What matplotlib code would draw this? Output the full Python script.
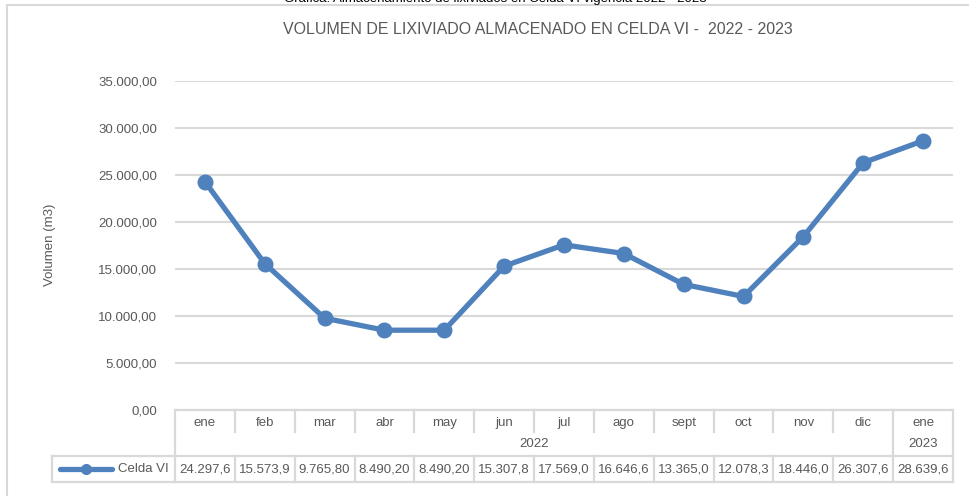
import matplotlib
matplotlib.use("Agg")
import matplotlib.pyplot as plt
from matplotlib.lines import Line2D
from matplotlib.patches import Rectangle
from matplotlib import font_manager as fm

months = ["ene", "feb", "mar", "abr", "may", "jun", "jul", "ago", "sept", "oct", "nov", "dic", "ene"]
years = ["2022", "2023"]
year_spans = [(0, 11), (12, 12)]
values = [24297.6, 15573.9, 9765.80, 8490.20, 8490.20, 15307.8, 17569.0,
          16646.6, 13365.0, 12078.3, 18446.0, 26307.6, 28639.6]
value_labels = ["24.297,6", "15.573,9", "9.765,80", "8.490,20", "8.490,20", "15.307,8", "17.569,0",
                "16.646,6", "13.365,0", "12.078,3", "18.446,0", "26.307,6", "28.639,6"]
yticks = [0, 5000, 10000, 15000, 20000, 25000, 30000, 35000]
ytick_labels = ["0,00", "5.000,00", "10.000,00", "15.000,00", "20.000,00", "25.000,00", "30.000,00", "35.000,00"]
series_name = "Celda VI"
title = "VOLUMEN DE LIXIVIADO ALMACENADO EN CELDA VI -  2022 - 2023"
caption = "Gráfica: Almacenamiento de lixiviados en Celda VI vigencia 2022 - 2023"
ylabel = "Volumen (m3)"

names = {f.name for f in fm.fontManager.ttflist}
FAM = ["Liberation Sans Narrow", "Liberation Sans", "DejaVu Sans"] if "Liberation Sans Narrow" in names else ["Liberation Sans", "DejaVu Sans"]
NARROW = "Liberation Sans Narrow" in names
plt.rcParams["font.family"] = FAM

W, H = 969, 496
fig = plt.figure(figsize=(W / 100, H / 100), dpi=100)
TXT = "#595959"
GRID = "#D9D9D9"
LINEC = "#4F81BD"

def fx(px):
    return px / W

def fy(py):
    return 1 - py / H

L, R, T, B = 175, 953, 81, 410
ax = fig.add_axes([fx(L), fy(B), fx(R) - fx(L), fy(T) - fy(B)])
n = len(months)
ax.set_xlim(-0.5, n - 0.5)
ax.set_ylim(0, 35000)
for s in ax.spines.values():
    s.set_visible(False)
ax.set_xticks([])
ax.set_yticks(yticks)
ax.set_yticklabels(ytick_labels)
ax.tick_params(axis="y", length=0, pad=13, labelsize=11.5 if NARROW else 9.5, labelcolor=TXT)
for v in yticks:
    ax.axhline(v, color=GRID, lw=1.5, zorder=0)
ax.plot(range(n), values, color=LINEC, lw=3.8, marker="o", markersize=10.5,
        solid_capstyle="round", zorder=3, clip_on=False)

fs = 11.5 if NARROW else 9.5
col_w = (R - L) / n
def cx(i):
    return L + col_w * (i + 0.5)
def edge(i):
    return L + col_w * i

y_top, y_mon, y_yr, y_bot = 410, 433, 456, 482
lw = 1.6
def hline(x0, x1, y):
    fig.add_artist(Line2D([fx(x0), fx(x1)], [fy(y), fy(y)], color=GRID, lw=lw))
def vline(x, y0, y1):
    fig.add_artist(Line2D([fx(x), fx(x)], [fy(y0), fy(y1)], color=GRID, lw=lw))

hline(L, R, y_top)
hline(52, R, y_yr)
hline(52, R, y_bot)
vline(52, y_yr, y_bot)
vline(L, y_top, y_bot)
vline(R, y_top, y_bot)
for i in range(1, n):
    if i == 12:
        vline(edge(i), y_top, y_bot)
    else:
        vline(edge(i), y_top, y_mon - 1)
        vline(edge(i), y_yr, y_bot)

for i, m in enumerate(months):
    fig.text(fx(cx(i)), fy(423), m, ha="center", va="center", fontsize=fs, color=TXT)
    fig.text(fx(cx(i)), fy(469), value_labels[i], ha="center", va="center", fontsize=fs, color=TXT)
for yr, (a, b) in zip(years, year_spans):
    fig.text(fx((edge(a) + edge(b + 1)) / 2), fy(444), yr, ha="center", va="center", fontsize=fs, color=TXT)

fig.add_artist(Line2D([fx(60), fx(112)], [fy(469), fy(469)], color=LINEC, lw=3.8, solid_capstyle="round"))
fig.add_artist(Line2D([fx(86)], [fy(469)], color=LINEC, marker="o", markersize=7, lw=0))
fig.text(fx(169), fy(469), series_name, ha="right", va="center", fontsize=fs, color=TXT)

fig.text(fx(538), fy(29), title, ha="center", va="center", fontsize=13.5 if NARROW else 11.5, color=TXT)
fig.text(fx(50), fy(245), ylabel, ha="center", va="center", rotation=90, fontsize=fs, color=TXT)
fig.text(fx(495), fy(-1), caption, ha="center", va="center", fontsize=fs, color="#000000")

fig.add_artist(Rectangle((fx(7), fy(520)), fx(990) - fx(7), fy(5) - fy(520), fill=False,
                         edgecolor=GRID, lw=1.5))

fig.savefig("out.png", dpi=100)
